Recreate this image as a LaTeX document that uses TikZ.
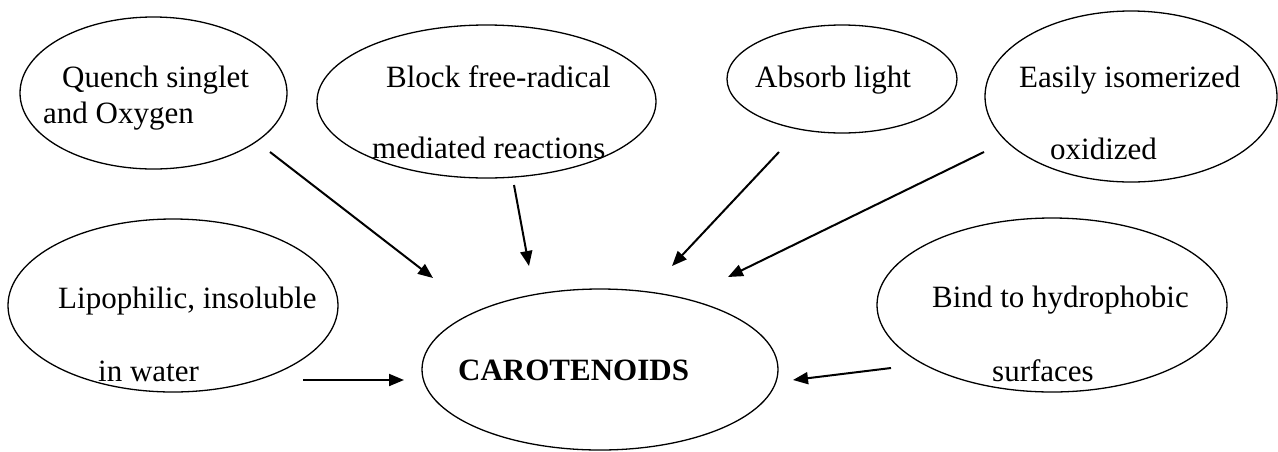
\documentclass[tikz,border=0pt]{standalone}
\usepackage{fontspec}
\setmainfont{Liberation Serif}
\usetikzlibrary{arrows.meta,shapes.geometric}
\tikzset{
  oval/.style={draw=black, line width=1.3pt, ellipse, inner sep=0pt},
  lbl/.style={anchor=base west, inner sep=0pt, font=\fontsize{31}{36}\selectfont},
  conn/.style={line width=2pt, -{Triangle[length=15pt,width=12pt]}}
}
\begin{document}
\begin{tikzpicture}[x=1pt,y=-1pt]
\useasboundingbox (0,0) rectangle (1278,451);
% ellipses
\node[oval, minimum width=267pt, minimum height=152pt] (q) at (153.5,93) {};
\node[oval, minimum width=339pt, minimum height=153pt] (b) at (486.5,101.5) {};
\node[oval, minimum width=230pt, minimum height=108pt] (a) at (842,79) {};
\node[oval, minimum width=292pt, minimum height=171pt] (e) at (1131,96.5) {};
\node[oval, minimum width=330pt, minimum height=173pt] (l) at (173,305.5) {};
\node[oval, minimum width=356pt, minimum height=161pt] (c) at (600,369.5) {};
\node[oval, minimum width=350pt, minimum height=174pt] (h) at (1052,305) {};
% labels
\node[lbl] (q1) at (62,87) {Quench singlet};
\node[lbl] (q2) at (43,123) {and Oxygen};
\node[lbl] (b1) at (386,87) {Block free-radical};
\node[lbl] (b2) at (372,158) {mediated reactions};
\node[lbl] (a1) at (755,87) {Absorb light};
\node[lbl] (e1) at (1019,87) {Easily isomerized};
\node[lbl] (e2) at (1050,159) {oxidized};
\node[lbl] (l1) at (58,308) {Lipophilic, insoluble};
\node[lbl] (l2) at (98,381) {in water};
\node[lbl, font=\fontsize{31}{36}\selectfont\bfseries] (c1) at (458,380) {CAROTENOIDS};
\node[lbl] (h1) at (932,307) {Bind to hydrophobic};
\node[lbl] (h2) at (992,381) {surfaces};
% arrow end points
\coordinate (qs) at (270,152);  \coordinate (qt) at (433,278);
\coordinate (bs) at (514,185);  \coordinate (bt) at (529,266);
\coordinate (as) at (779,152);  \coordinate (at) at (672,266);
\coordinate (es) at (984,152);  \coordinate (et) at (728,277);
\coordinate (ls) at (303,380);  \coordinate (lt) at (404,380);
\coordinate (hs) at (891,368);  \coordinate (ht) at (793,380);
\draw[conn] (qs) -- (qt);
\draw[conn] (bs) -- (bt);
\draw[conn] (as) -- (at);
\draw[conn] (es) -- (et);
\draw[conn] (ls) -- (lt);
\draw[conn] (hs) -- (ht);
\end{tikzpicture}
\end{document}
